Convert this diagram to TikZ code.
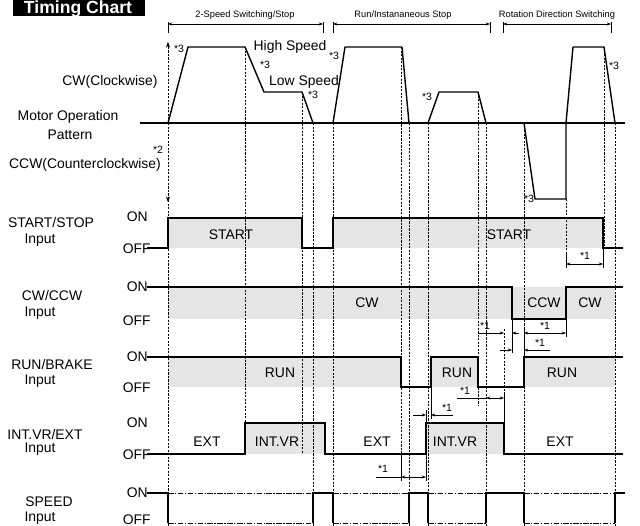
\documentclass[tikz,border=0pt]{standalone}
\usepackage{fontspec}
\setmainfont{Liberation Sans}
\usetikzlibrary{arrows.meta}
\tikzset{
    >=Stealth,
    dim/.style={draw,line width=0.4pt,{Stealth[length=3pt,width=2.2pt]}-{Stealth[length=3pt,width=2.2pt]}},
    lead/.style={draw,line width=0.4pt,-{Stealth[length=3pt,width=2.2pt]}},
    tick/.style={draw,line width=0.5pt},
    every node/.style={inner sep=0pt}
}

\begin{document}
\begin{tikzpicture}[x=0.025cm,y=-0.025cm,
                    sig/.style={draw,line width=0.9pt},
                    motor/.style={draw,line width=1pt,line join=round},
                    guide/.style={draw,line width=0.45pt,dash pattern=on 1.6pt off 0.9pt},
                    spdline/.style={draw,line width=0.6pt,dash pattern=on 4pt off 1pt on 1pt off 1pt},
                    band/.style={fill=black!10},
                    txt/.style={font=\fontsize{9.9}{11}\selectfont},
                    note/.style={font=\fontsize{7.5}{8}\selectfont},
                    hdr/.style={font=\fontsize{6.6}{8}\selectfont}]
\useasboundingbox (0,0) rectangle (640,526);

% Title
\fill (13,-3) rectangle (145,16);
\node[anchor=base,text=white,font=\bfseries\fontsize{12.5}{13}\selectfont] (title) at (78,13.5) {Timing Chart};

% Sections
\node[hdr] (secA) at (245,15) {2-Speed Switching/Stop};
\node[hdr] (secB) at (403,15) {Run/Instananeous Stop};
\node[hdr] (secC) at (557,15) {Rotation Direction Switching};
\draw[tick] (168,22) -- (168,33);
\draw[tick] (323,22) -- (323,33);
\draw[dim] (168,24) -- (323,24);
\draw[tick] (333,22) -- (333,33);
\draw[tick] (490,22) -- (490,33);
\draw[dim] (333,24) -- (490,24);
\draw[tick] (503,22) -- (503,33);
\draw[tick] (611,22) -- (611,33);
\draw[dim] (503,24) -- (611,24);

% Shaded ON periods
\fill[band] (168,218) rectangle (302,248);
\fill[band] (333,218) rectangle (603,248);
\fill[band] (168,287) rectangle (615,319);
\fill[band] (168,357) rectangle (401,387);
\fill[band] (431,357) rectangle (478,387);
\fill[band] (524,357) rectangle (615,387);
\fill[band] (245,423) rectangle (325,454);
\fill[band] (426,423) rectangle (504,454);

% Timing guides
\draw[guide,-{Stealth[length=4pt,width=3pt]}] (168,123) -- (168,42);
\draw[guide,-{Stealth[length=4pt,width=3pt]}] (168,123) -- (168,202);
\draw[guide] (168,200) -- (168,526);
\draw[guide] (245,47) -- (245,423);
\draw[guide] (302,92) -- (302,454);
\draw[guide] (313,123) -- (313,526);
\draw[guide] (333,123) -- (333,526);
\draw[guide] (401,47) -- (401,479);
\draw[guide] (409,123) -- (409,526);
\draw[guide] (428,123) -- (428,526);
\draw[guide] (478,92) -- (478,406);
\draw[guide] (486,123) -- (486,526);
\draw[guide] (504,329) -- (504,398);
\draw[guide] (524,123) -- (524,526);
\draw[guide] (566,199) -- (566,253);
\draw[guide] (604,47) -- (604,248);
\draw[guide] (615,123) -- (615,526);

% Motor operation pattern
\draw[motor] (140,123) -- (625,123);
\draw[motor] (168,123) -- (188,47) -- (245,47) -- (264,92) -- (302,92) -- (313,123);
\draw[motor] (333,123) -- (345,47) -- (402,47) -- (409,123);
\draw[motor] (428,123) -- (439,92) -- (478,92) -- (486,123);
\draw[motor] (524,123) -- (535,199) -- (566,199) -- (566,123) -- (573,47) -- (604,47) -- (615,123);

\node[txt] (hi) at (290,47) {High Speed};
\node[txt] (lo) at (304,82) {Low Speed};
\node[note] (n3a) at (179,49) {*3};
\node[note] (n3b) at (265,65) {*3};
\node[note] (n3c) at (313,95) {*3};
\node[note] (n3d) at (334,56) {*3};
\node[note] (n3e) at (427,97) {*3};
\node[note] (n3f) at (614,66) {*3};
\node[note] (n3g) at (529,199) {*3};
\node[note] (n2) at (158,150) {*2};

% Row labels
\node[txt] (cwlab) at (110,82) {CW(Clockwise)};
\node[txt] (motlab) at (68,117) {Motor Operation};
\node[txt] (patlab) at (70,135) {Pattern};
\node[txt] (ccwlab) at (85,165) {CCW(Counterclockwise)};
\node[txt] (sslab) at (51,223) {START/STOP};
\node[txt] (ssin) at (40,240) {Input};
\node[txt] (dirlab) at (52,296) {CW/CCW};
\node[txt] (dirin) at (40,313) {Input};
\node[txt] (rblab) at (52,365) {RUN/BRAKE};
\node[txt] (rbin) at (40,381) {Input};
\node[txt] (vrlab) at (45,435) {INT.VR/EXT};
\node[txt] (vrin) at (40,449) {Input};
\node[txt] (splab) at (49,502) {SPEED};
\node[txt] (spin) at (40,518) {Input};

% ON / OFF levels
\node[txt,anchor=east] (on1) at (148,217) {ON};
\node[txt,anchor=east] (off1) at (151,249) {OFF};
\node[txt,anchor=east] (on2) at (148,287) {ON};
\node[txt,anchor=east] (off2) at (151,321) {OFF};
\node[txt,anchor=east] (on3) at (148,357) {ON};
\node[txt,anchor=east] (off3) at (151,388) {OFF};
\node[txt,anchor=east] (on4) at (148,423) {ON};
\node[txt,anchor=east] (off4) at (151,455) {OFF};
\node[txt,anchor=east] (on5) at (148,493) {ON};
\node[txt,anchor=east] (off5) at (151,519.5) {OFF};

% Signals
\draw[sig] (147,248) -- (168,248) -- (168,218) -- (302,218) -- (302,248) -- (333,248) -- (333,218) -- (603,218) -- (603,248) -- (623,248);
\draw[sig] (147,287) -- (512,287) -- (512,319) -- (566,319) -- (566,287) -- (623,287);
\draw[sig] (147,357) -- (401,357) -- (401,387) -- (431,387) -- (431,357) -- (478,357) -- (478,387) -- (524,387) -- (524,357) -- (623,357);
\draw[sig] (147,454) -- (245,454) -- (245,423) -- (325,423) -- (325,454) -- (426,454) -- (426,423) -- (504,423) -- (504,454) -- (623,454);

\draw[sig] (147,493) -- (168,493) -- (168,523);
\draw[sig] (313,523) -- (313,493) -- (333,493) -- (333,523);
\draw[sig] (409,523) -- (409,493) -- (428,493) -- (428,523);
\draw[sig] (486,523) -- (486,493) -- (524,493) -- (524,523);
\draw[sig] (615,523) -- (615,493) -- (625,493);
\draw[spdline] (168,493) -- (313,493);
\draw[spdline] (168,523) -- (313,523);
\draw[spdline] (333,493) -- (409,493);
\draw[spdline] (333,523) -- (409,523);
\draw[spdline] (428,493) -- (486,493);
\draw[spdline] (428,523) -- (486,523);
\draw[spdline] (524,493) -- (615,493);
\draw[spdline] (524,523) -- (615,523);

\node[txt] (start1) at (231,235) {START};
\node[txt] (start2) at (509,235) {START};
\node[txt] (cw1) at (367,303) {CW};
\node[txt] (ccw) at (544,303) {CCW};
\node[txt] (cw2) at (590,303) {CW};
\node[txt] (run1) at (280,373) {RUN};
\node[txt] (run2) at (457,373) {RUN};
\node[txt] (run3) at (562,373) {RUN};
\node[txt] (ext1) at (207,442) {EXT};
\node[txt] (vr1) at (277,442) {INT.VR};
\node[txt] (ext2) at (377,442) {EXT};
\node[txt] (vr2) at (455,442) {INT.VR};
\node[txt] (ext3) at (560,442) {EXT};

% Delay marks
\draw[tick] (566,253) -- (566,268);
\draw[tick] (603,248) -- (603,268);
\draw[dim] (566,264) -- (603,264);
\node[note] (d1) at (585,256) {*1};

\draw[tick] (512,319) -- (512,353);
\draw[tick] (566,319) -- (566,337);
\draw[tick] (524,357) -- (524,329);
\draw[lead] (478,333) -- (504,333);
\draw[lead] (519,333) -- (512,333);
\draw[dim] (524,333) -- (566,333);
\node[note] (d2) at (485,326) {*1};
\node[note] (d3) at (545,326) {*1};

\draw[lead] (500,350) -- (512,350);
\draw[lead] (550,350) -- (524,350);
\node[note] (d4) at (540,343) {*1};

\draw[tick] (504,423) -- (504,393);
\draw[line width=0.4pt] (457,398) -- (486,398);
\draw[dim] (486,398) -- (504,398);
\node[note] (d5) at (465,391) {*1};

\draw[tick] (426,423) -- (426,410);
\draw[tick] (431,387) -- (431,419);
\draw[lead] (413,415) -- (426,415);
\draw[lead] (453,415) -- (431,415);
\node[note] (d6) at (447,408) {*1};

\draw[tick] (426,454) -- (426,481);
\draw[tick] (401,457) -- (401,481);
\draw[line width=0.4pt] (376,477) -- (401,477);
\draw[dim] (401,477) -- (426,477);
\node[note] (d7) at (383,469) {*1};

\end{tikzpicture}
\end{document}
